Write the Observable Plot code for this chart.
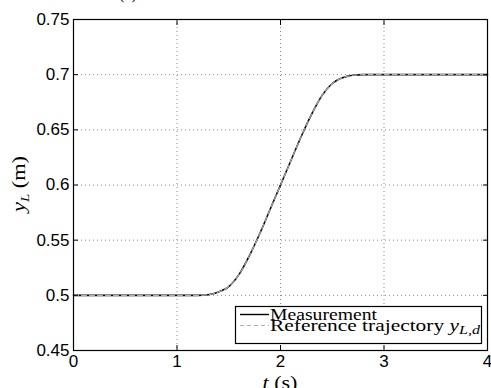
<!DOCTYPE html>
<html><head><meta charset="utf-8">
<script src="https://cdn.jsdelivr.net/npm/d3@7"></script>
<script src="https://cdn.jsdelivr.net/npm/@observablehq/plot@0.6"></script>
<style>body{margin:0;background:#fff}#c{position:relative;width:491px;height:388px;overflow:hidden}</style>
</head><body><div id="c"></div>
<script>
const time = [0, 0.5, 1.0, 1.2, 1.3, 1.35, 1.4, 1.45, 1.5, 1.6, 1.7, 1.8, 1.9, 2.0, 2.1, 2.2, 2.3, 2.4, 2.5, 2.55, 2.6, 2.65, 2.7, 2.8, 3.0, 3.5, 4.0];
const measurement = [0.5, 0.5, 0.5, 0.5, 0.5006, 0.5015, 0.503, 0.505, 0.508, 0.519, 0.536, 0.556, 0.578, 0.600, 0.622, 0.644, 0.664, 0.681, 0.692, 0.6952, 0.6972, 0.6987, 0.6995, 0.7, 0.7, 0.7, 0.7];
const reference = [0.5, 0.5, 0.5, 0.5, 0.5006, 0.5015, 0.503, 0.505, 0.508, 0.519, 0.536, 0.556, 0.578, 0.600, 0.622, 0.644, 0.664, 0.681, 0.692, 0.6952, 0.6972, 0.6987, 0.6995, 0.7, 0.7, 0.7, 0.7];
const xTicks = [0, 1, 2, 3, 4];
const yTicks = [0.45, 0.5, 0.55, 0.6, 0.65, 0.7, 0.75];
const seriesLabels = ["Measurement", "Reference trajectory"];

const meas = time.map((t, i) => ({t, y: measurement[i]}));
const ref = time.map((t, i) => ({t, y: reference[i]}));
const fmt = d => String(+d.toFixed(2));

const chart = Plot.plot({
  width: 491, height: 388,
  marginTop: 19, marginBottom: 38, marginLeft: 73, marginRight: 4,
  style: {fontFamily: "Liberation Sans, Arial, sans-serif", fontSize: "17px", background: "#fff", color: "#000"},
  x: {domain: [0, 4], ticks: xTicks},
  y: {domain: [0.45, 0.75], ticks: yTicks},
  marks: [
    Plot.gridX(xTicks, {stroke: "#888", strokeOpacity: 1, strokeDasharray: "1,3"}),
    Plot.gridY(yTicks, {stroke: "#888", strokeOpacity: 1, strokeDasharray: "1,3"}),
    Plot.line(meas, {x: "t", y: "y", stroke: "#000", strokeWidth: 1.6, curve: "monotone-x"}),
    Plot.line(ref, {x: "t", y: "y", stroke: "#b0b0b0", strokeWidth: 1.1, strokeDasharray: "5,3", curve: "monotone-x"}),
    Plot.axisX(xTicks, {anchor: "bottom", tickSize: 0, tickPadding: 4, tickFormat: fmt, fontSize: 17, label: null}),
    Plot.axisY(yTicks, {anchor: "left", tickSize: 0, tickPadding: 4, tickFormat: fmt, fontSize: 17, label: null}),
    Plot.axisX(xTicks, {anchor: "bottom", tickSize: -5, tickFormat: () => "", label: null}),
    Plot.axisX(xTicks, {anchor: "top", tickSize: -5, tickFormat: () => "", label: null}),
    Plot.axisY(yTicks, {anchor: "left", tickSize: -5, tickFormat: () => "", label: null}),
    Plot.axisY(yTicks, {anchor: "right", tickSize: -5, tickFormat: () => "", label: null}),
    Plot.frame({stroke: "#000", strokeWidth: 1.2})
  ]
});
document.getElementById("c").appendChild(chart);

const svg = d3.select(chart);
const serif = "'Liberation Serif', 'Times New Roman', serif";
function txt(sel) { return sel.append("text").style("font-family", serif).style("fill", "#000"); }
// title (cut off at top)
txt(svg).attr("x", 128).attr("y", -1).attr("text-anchor", "middle").style("font-size", "16px").text("(a)");
// x label
const xl = txt(svg).attr("x", 280).attr("y", 389).attr("text-anchor", "middle").style("font-size", "18px")
  .attr("textLength", 35).attr("lengthAdjust", "spacingAndGlyphs");
xl.append("tspan").style("font-style", "italic").text("t");
xl.append("tspan").text(" (s)");
// y label
const yl = txt(svg).attr("transform", "translate(25,184) rotate(-90)").attr("text-anchor", "middle").style("font-size", "18px")
  .attr("textLength", 56).attr("lengthAdjust", "spacingAndGlyphs");
yl.append("tspan").style("font-style", "italic").text("y");
yl.append("tspan").style("font-style", "italic").style("font-size", "12px").attr("dy", 4).text("L");
yl.append("tspan").attr("dy", -4).text(" (m)");
// legend
const lg = svg.append("g");
lg.append("rect").attr("x", 235.5).attr("y", 306.5).attr("width", 246).attr("height", 37)
  .attr("fill", "#fff").attr("stroke", "#000").attr("stroke-width", 1.2);
lg.append("line").attr("x1", 240).attr("x2", 269).attr("y1", 314.5).attr("y2", 314.5)
  .attr("stroke", "#000").attr("stroke-width", 1.4);
lg.append("line").attr("x1", 240).attr("x2", 269).attr("y1", 325.5).attr("y2", 325.5)
  .attr("stroke", "#b0b0b0").attr("stroke-width", 1.1).attr("stroke-dasharray", "4,3");
txt(lg).attr("x", 270).attr("y", 319.5).attr("text-anchor", "start").style("font-size", "16px")
  .attr("textLength", 107).attr("lengthAdjust", "spacingAndGlyphs").text(seriesLabels[0]);
const t2 = txt(lg).attr("x", 270).attr("y", 330.5).attr("text-anchor", "start").style("font-size", "16px")
  .attr("textLength", 210).attr("lengthAdjust", "spacingAndGlyphs");
t2.append("tspan").text(seriesLabels[1] + " ");
t2.append("tspan").style("font-style", "italic").text("y");
t2.append("tspan").style("font-style", "italic").style("font-size", "12px").attr("dy", 3).text("L,d");
</script></body></html>
